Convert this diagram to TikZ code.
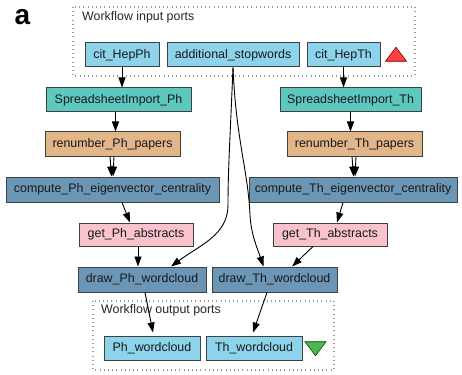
\documentclass[tikz,border=0pt]{standalone}
\usepackage{fontspec}
\setmainfont{Liberation Sans}
\usetikzlibrary{arrows.meta,calc,shapes.geometric}
\definecolor{portblue}{HTML}{8DD3EC}
\definecolor{importcol}{HTML}{5CC8BF}
\definecolor{beancol}{HTML}{E2B689}
\definecolor{rshellcol}{HTML}{6B96B6}
\definecolor{restcol}{HTML}{F9C3CD}
\definecolor{edgecol}{HTML}{404040}
\tikzset{
  proc/.style={draw=edgecol, line width=1pt, rectangle, inner sep=0pt,
    minimum height=24pt, font=\fontsize{12.4}{14}\selectfont, text=black!90},
  port/.style={proc, fill=portblue},
  import/.style={proc, fill=importcol},
  bean/.style={proc, fill=beancol},
  rshell/.style={proc, fill=rshellcol},
  rest/.style={proc, fill=restcol},
  group/.style={draw=gray!80, line width=1.1pt, dash pattern=on 1pt off 3.2pt},
  grouplabel/.style={anchor=west, inner sep=0pt, font=\fontsize{12.4}{14}\selectfont, text=black!85},
  flow/.style={draw=black, line width=0.9pt, -{Triangle[length=10pt,width=7pt]}}
}
\begin{document}
\begin{tikzpicture}[x=1pt,y=-1pt]
\useasboundingbox[fill=white] (0,0) rectangle (462,374);

% panel letter
\node[font=\fontsize{28}{30}\selectfont\bfseries, inner sep=0pt] (panel) at (22.5,17) {a};

% workflow input ports
\draw[group] (73,7) rectangle (415,76);
\node[grouplabel] (inlabel) at (82,17) {Workflow input ports};
\node[port, minimum width=74pt]  (citph) at (122,55)   {cit\_HepPh};
\node[port, minimum width=132pt] (stop)  at (233,55)   {additional\_stopwords};
\node[port, minimum width=73pt]  (citth) at (343.5,55) {cit\_HepTh};
\node[draw=red!50!black, fill=red!75!white, line width=0.6pt, isosceles triangle,
      shape border rotate=90, isosceles triangle apex angle=74,
      minimum width=18pt, minimum height=14pt, inner sep=0pt] (intri) at (396,56) {};

% processors
\node[import, minimum width=145pt] (ssiph) at (118.5,100) {SpreadsheetImport\_Ph};
\node[import, minimum width=141pt] (ssith) at (350.5,100) {SpreadsheetImport\_Th};
\node[bean, minimum width=135pt]   (renph) at (112.5,144) {renumber\_Ph\_papers};
\node[bean, minimum width=135pt]   (renth) at (354.5,144) {renumber\_Th\_papers};
\node[rshell, minimum width=213pt, minimum height=25pt] (cmpph) at (112.5,189.5) {compute\_Ph\_eigenvector\_centrality};
\node[rshell, minimum width=208pt, minimum height=25pt] (cmpth) at (353,189.5)   {compute\_Th\_eigenvector\_centrality};
\node[rest, minimum width=114pt, minimum height=23pt] (absph) at (136,234.5) {get\_Ph\_abstracts};
\node[rest, minimum width=114pt, minimum height=23pt] (absth) at (330,234.5) {get\_Th\_abstracts};
\node[rshell, minimum width=128pt, minimum height=25pt] (drwph) at (142,279.5)   {draw\_Ph\_wordcloud};
\node[rshell, minimum width=125pt, minimum height=25pt] (drwth) at (274.5,279.5) {draw\_Th\_wordcloud};

% workflow output ports
\draw[group] (93,301) rectangle (334,370);
\node[grouplabel] (outlabel) at (101,310) {Workflow output ports};
\node[port, minimum width=96pt] (outph) at (152,348) {Ph\_wordcloud};
\node[port, minimum width=96pt] (outth) at (254,348) {Th\_wordcloud};
\node[draw=green!30!black, fill=green!60!black!70!white, line width=0.6pt, isosceles triangle,
      shape border rotate=-90, isosceles triangle apex angle=74,
      minimum width=18pt, minimum height=14pt, inner sep=0pt] (outtri) at (315.5,347) {};

% data links
\draw[flow] (citph.south) -- (citph.south |- ssiph.north);
\draw[flow] (citth.south) -- (citth.south |- ssith.north);
\draw[flow] ($(ssiph.south)+(-3,0)$) -- ($(ssiph.south |- renph.north)+(-3,0)$);
\draw[flow] (ssith.south) -- (ssith.south |- renth.north);
\draw[flow] ($(renph.south)+(-2.5,0)$) -- ($(cmpph.north)+(-1,0)$);
\draw[flow] ($(renph.south)+(1.5,0)$) -- ($(cmpph.north)+(0.5,0)$);
\draw[flow] ($(renth.south)+(-2.5,0)$) -- ($(cmpth.north)+(0.5,0)$);
\draw[flow] ($(renth.south)+(1.5,0)$) -- ($(cmpth.north)+(2,0)$);
\draw[flow] ($(cmpph.south)+(9.5,0)$) -- ($(absph.north)+(-6,0)$);
\draw[flow] ($(cmpth.south)+(-10,0)$) -- ($(absth.north)+(7,0)$);
\draw[flow] ($(absph.south)+(2,0)$) -- ($(drwph.north)+(-4,0)$);
\draw[flow] ($(absth.south)+(-17,0)$) -- ($(drwth.north)+(17.5,0)$);
\draw[flow] (stop.south) .. controls (230,140) and (228,170) .. (228,205)
  .. controls (228,235) and (200,245) .. ($(drwph.north)+(29,0)$);
\draw[flow] (stop.south) .. controls (236,140) and (248,170) .. (250,215)
  .. controls (251,235) and (258,250) .. ($(drwth.north)+(-11,0)$);
\draw[flow] ($(drwph.south)+(3,0)$) -- ($(outph.north)+(1,-3)$);
\draw[flow] ($(drwth.south)+(-7.5,0)$) -- ($(outth.north)+(-1,-3)$);
\end{tikzpicture}
\end{document}
